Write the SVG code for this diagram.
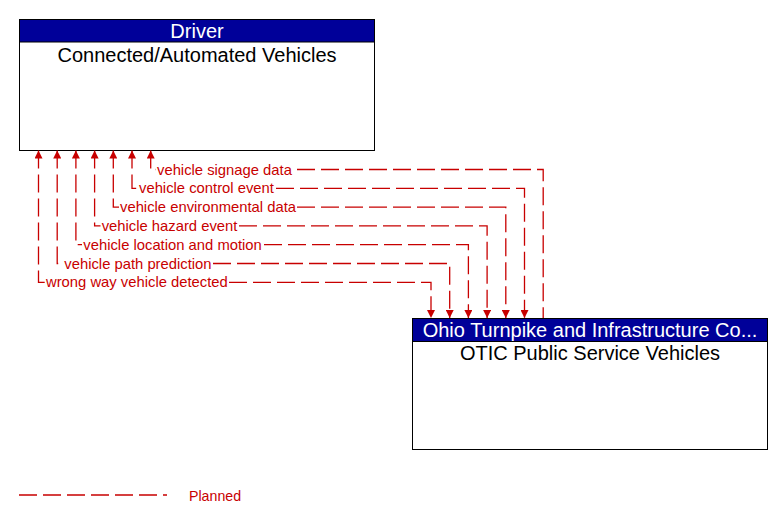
<svg xmlns="http://www.w3.org/2000/svg" width="783" height="524" viewBox="0 0 783 524">
<style>
.box{fill:#fff;stroke:#000;stroke-width:1}
.hdr{fill:#000099;stroke:#000;stroke-width:1}
.ttl{font-family:"Liberation Sans",Arial,sans-serif;font-size:20px;text-anchor:middle}
.w{fill:#fff}
.k{fill:#000}
.flow{fill:none;stroke:#c80000;stroke-width:1.3;stroke-dasharray:18 6}
.lbl{font-family:"Liberation Sans",Arial,sans-serif;font-size:14.8px;fill:#c80000}
</style>
<defs>
<marker id="arr" markerUnits="userSpaceOnUse" markerWidth="8" markerHeight="8" viewBox="0 0 8 8" refX="8" refY="4" orient="auto-start-reverse">
<path d="M0,0 L8,4 L0,8 z" fill="#c80000"/>
</marker>
</defs>
<rect width="783" height="524" fill="#fff"/>
<g id="node-cav">
<rect class="box" x="19.5" y="19.5" width="355" height="131"/>
<rect class="hdr" x="19.5" y="19.5" width="355" height="22.5"/>
<text class="ttl w" x="197" y="37.5">Driver</text>
<text class="ttl k" x="197" y="61.5">Connected/Automated Vehicles</text>
</g>
<g id="node-otic">
<rect class="box" x="412.5" y="318.5" width="355" height="131"/>
<rect class="hdr" x="412.5" y="318.5" width="355" height="23"/>
<text class="ttl w" x="590" y="337">Ohio Turnpike and Infrastructure Co...</text>
<text class="ttl k" x="590" y="360">OTIC Public Service Vehicles</text>
</g>
<g id="connectors">
<path class="flow" marker-start="url(#arr)" d="M150.7,150.5 V169.5 H156"/>
<path class="flow" d="M297,169.5 H543.2 V318"/>
<path class="flow" marker-start="url(#arr)" d="M132,150.5 V188.3 H138"/>
<path class="flow" marker-end="url(#arr)" d="M276,188.3 H524.5 V318"/>
<path class="flow" marker-start="url(#arr)" d="M113.3,150.5 V207.1 H119"/>
<path class="flow" marker-end="url(#arr)" d="M297,207.1 H505.8 V318"/>
<path class="flow" marker-start="url(#arr)" d="M94.6,150.5 V225.9 H100.5"/>
<path class="flow" marker-end="url(#arr)" d="M239,225.9 H487.1 V318"/>
<path class="flow" marker-start="url(#arr)" d="M75.9,150.5 V244.7 H82"/>
<path class="flow" marker-end="url(#arr)" d="M264,244.7 H468.4 V318"/>
<path class="flow" marker-start="url(#arr)" d="M57.2,150.5 V263.5 H63"/>
<path class="flow" marker-end="url(#arr)" d="M213,263.5 H449.7 V318"/>
<path class="flow" marker-start="url(#arr)" d="M38.5,150.5 V282.3 H45"/>
<path class="flow" marker-end="url(#arr)" d="M229,282.3 H431 V318"/>
<text class="lbl" x="157" y="174.5">vehicle signage data</text>
<text class="lbl" x="139" y="193.3">vehicle control event</text>
<text class="lbl" x="120" y="212.1">vehicle environmental data</text>
<text class="lbl" x="101.7" y="230.9">vehicle hazard event</text>
<text class="lbl" x="83.3" y="249.7">vehicle location and motion</text>
<text class="lbl" x="64.3" y="268.5">vehicle path prediction</text>
<text class="lbl" x="46" y="287.3">wrong way vehicle detected</text>
</g>
<g id="legend">
<path class="flow" d="M19,495 H167"/>
<text x="189" y="500.5" style="font-family:'Liberation Sans',Arial,sans-serif;font-size:14.2px;fill:#c80000">Planned</text>
</g>
</svg>
